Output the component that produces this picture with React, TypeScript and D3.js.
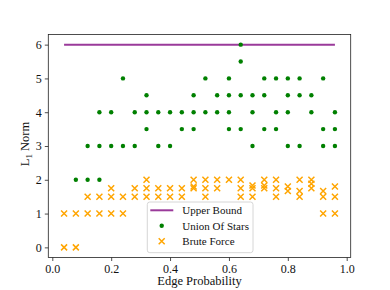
import React, { useRef, useEffect } from 'react';
import * as d3 from 'd3';

// edge probabilities on the x axis
const probs = [
  0.04, 0.08, 0.12, 0.16, 0.2, 0.24, 0.28, 0.32, 0.36, 0.4, 0.44, 0.48,
  0.52, 0.56, 0.6, 0.64, 0.68, 0.72, 0.76, 0.8, 0.84, 0.88, 0.92, 0.96,
];
const upperBound = [6, 6, 6, 6, 6, 6, 6, 6, 6, 6, 6, 6, 6, 6, 6, 6, 6, 6, 6, 6, 6, 6, 6, 6];
// one list of trial results per probability
const unionOfStars = [
  [], [2], [2, 3], [2, 3, 4], [3, 4], [3, 5], [3, 4], [3.5, 4, 4.5],
  [3, 4], [3, 4], [3.5, 4], [3.5, 4, 4.5], [4, 5], [4, 4.5], [3.5, 4, 4.5, 5], [3.5, 4.5, 5.5, 6],
  [3, 4, 4.5], [3.5, 4.5, 5], [3.5, 4, 5], [3, 4, 4.5, 5], [3, 4.5, 5], [4, 4.5], [3, 3.5, 5], [3, 3.5, 4],
];
const bruteForce = [
  [0, 1], [0, 1], [1, 1.5], [1, 1.5], [1, 1.5, 1.75], [1, 1.5], [1.5, 1.75], [1.5, 1.75, 2],
  [1.5, 1.75], [1.5, 1.75], [1.5, 1.75], [1.75, 1.8, 2], [1.5, 1.75, 2], [1.75, 2], [2], [1.5, 1.75, 2],
  [1.5, 1.75, 1.83], [1.75, 1.83, 2], [1.5, 1.75, 2], [1.67, 1.8], [1.5, 1.67, 2], [1.75, 1.88, 2], [1, 1.5, 1.67], [1, 1.5, 1.8],
];
const xTicks = [0, 0.2, 0.4, 0.6, 0.8, 1.0];
const yTicks = [0, 1, 2, 3, 4, 5, 6];

const W = 390;
const H = 290;
const FONT = 'Liberation Serif';
const GREEN = '#008000';
const ORANGE = '#ffa500';
const PURPLE = '#9a3a9a';

const App = () => {
  const svgRef = useRef<SVGSVGElement>(null);

  useEffect(() => {
    const svg = d3.select(svgRef.current);
    svg.selectAll('*').remove();

    const x = d3.scaleLinear().domain([-0.0136, 1.0136]).range([48.3, 350.7]);
    const y = d3.scaleLinear().domain([-0.3, 6.3]).range([257.5, 34.5]);

    const plot = svg.append('g');

    // upper bound line
    const line = d3
      .line<number>()
      .x((_, i) => x(probs[i]))
      .y((d) => y(d));
    plot
      .append('path')
      .attr('d', line(upperBound))
      .attr('fill', 'none')
      .attr('stroke', PURPLE)
      .attr('stroke-width', 2);

    const stars = probs.flatMap((p, i) => unionOfStars[i].map((v) => ({ p, v })));
    plot
      .selectAll('.star')
      .data(stars)
      .enter()
      .append('circle')
      .attr('cx', (d) => x(d.p))
      .attr('cy', (d) => y(d.v))
      .attr('r', 2.2)
      .attr('fill', GREEN);

    const brute = probs.flatMap((p, i) => bruteForce[i].map((v) => ({ p, v })));
    const s = 3;
    plot
      .selectAll('.brute')
      .data(brute)
      .enter()
      .append('path')
      .attr('transform', (d) => `translate(${x(d.p)},${y(d.v)})`)
      .attr('d', `M${-s},${-s}L${s},${s}M${-s},${s}L${s},${-s}`)
      .attr('stroke', ORANGE)
      .attr('stroke-width', 1.5)
      .attr('fill', 'none');

    // frame
    svg
      .append('rect')
      .attr('x', 48.3)
      .attr('y', 34.5)
      .attr('width', 350.7 - 48.3)
      .attr('height', 257.5 - 34.5)
      .attr('fill', 'none')
      .attr('stroke', '#222')
      .attr('stroke-width', 0.8);

    const xAxis = svg
      .append('g')
      .attr('transform', 'translate(0,257.5)')
      .call(d3.axisBottom(x).tickValues(xTicks).tickFormat(d3.format('.1f')).tickSize(3.5).tickPadding(3));
    const yAxis = svg
      .append('g')
      .attr('transform', 'translate(48.3,0)')
      .call(d3.axisLeft(y).tickValues(yTicks).tickFormat(d3.format('d')).tickSize(3.5).tickPadding(3));
    [xAxis, yAxis].forEach((g) => {
      g.attr('font-family', FONT).attr('font-size', 12);
      g.select('.domain').remove();
      g.selectAll('line').attr('stroke', '#222').attr('stroke-width', 0.8);
      g.selectAll('text').attr('fill', '#111');
    });

    svg
      .append('text')
      .attr('x', (48.3 + 350.7) / 2)
      .attr('y', 285)
      .attr('text-anchor', 'middle')
      .attr('font-family', FONT)
      .attr('font-size', 12.5)
      .attr('fill', '#111')
      .text('Edge Probability');

    const yl = svg
      .append('text')
      .attr('transform', 'translate(29,144) rotate(-90)')
      .attr('text-anchor', 'middle')
      .attr('font-family', FONT)
      .attr('font-size', 12.5)
      .attr('fill', '#111');
    yl.append('tspan').text('L');
    yl.append('tspan').attr('dy', 3).attr('font-size', 9).text('1');
    yl.append('tspan').attr('dy', -3).text(' Norm');

    // legend
    const lg = svg.append('g').attr('transform', 'translate(147.3,202)');
    lg.append('rect')
      .attr('width', 105.7)
      .attr('height', 50.7)
      .attr('rx', 2.5)
      .attr('fill', 'white')
      .attr('fill-opacity', 0.8)
      .attr('stroke', '#cccccc')
      .attr('stroke-width', 0.8);
    const rows = ['Upper Bound', 'Union Of Stars', 'Brute Force'];
    rows.forEach((label, i) => {
      const cy = 8.3 + i * 15.5;
      if (i === 0) {
        lg.append('line')
          .attr('x1', 3).attr('x2', 26).attr('y1', cy).attr('y2', cy)
          .attr('stroke', PURPLE).attr('stroke-width', 2);
      } else if (i === 1) {
        lg.append('circle').attr('cx', 14.4).attr('cy', cy).attr('r', 2.2).attr('fill', GREEN);
      } else {
        lg.append('path')
          .attr('transform', `translate(14.4,${cy})`)
          .attr('d', `M${-s},${-s}L${s},${s}M${-s},${s}L${s},${-s}`)
          .attr('stroke', ORANGE)
          .attr('stroke-width', 1.5);
      }
      lg.append('text')
        .attr('x', 35)
        .attr('y', cy)
        .attr('dy', '0.35em')
        .attr('font-family', FONT)
        .attr('font-size', 11)
        .attr('fill', '#111')
        .text(label);
    });
  }, []);

  return (
    <svg
      ref={svgRef}
      width={W}
      height={H}
      style={{ position: 'absolute', left: 0, top: 0, background: 'white' }}
    />
  );
};

export default App;
